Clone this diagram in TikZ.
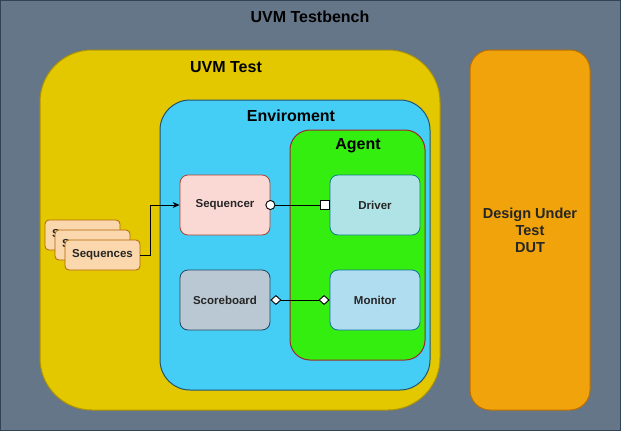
\documentclass[tikz,border=0pt]{standalone}
\usepackage{fontspec}
\setmainfont{Liberation Sans}
\usepackage{tikz}
\usetikzlibrary{positioning, arrows.meta}

\definecolor{benchfill}{HTML}{647687}
\definecolor{benchline}{HTML}{314354}
\definecolor{testfill}{HTML}{E3C800}
\definecolor{testline}{HTML}{B09500}
\definecolor{dutfill}{HTML}{F0A30A}
\definecolor{dutline}{HTML}{BD7000}
\definecolor{envfill}{HTML}{44CEF6}
\definecolor{envline}{HTML}{24536E}
\definecolor{agentfill}{HTML}{33EE0F}
\definecolor{agentline}{HTML}{A0282A}
\definecolor{seqrfill}{HTML}{FAD9D5}
\definecolor{seqrline}{HTML}{AE4132}
\definecolor{drvfill}{HTML}{B0E3E6}
\definecolor{drvline}{HTML}{0E8088}
\definecolor{sbfill}{HTML}{BAC8D3}
\definecolor{sbline}{HTML}{23445D}
\definecolor{monfill}{HTML}{B1DDF0}
\definecolor{monline}{HTML}{10739E}
\definecolor{seqsfill}{HTML}{FAD7AC}
\definecolor{seqsline}{HTML}{B46504}

\begin{document}
\begin{tikzpicture}[x=1pt, y=-1pt,
					line width=1pt,
					container/.style={draw, inner sep=0pt},
					title/.style={font=\bfseries\fontsize{16}{18}\selectfont},
					block/.style={draw, rounded corners=8pt, minimum width=90pt,
						minimum height=60pt, line width=0.8pt,
						font=\bfseries\fontsize{11.5}{13}\selectfont, text=black!85},
					seqs/.style={draw=seqsline, fill=seqsfill, rounded corners=4pt,
						minimum width=75pt, minimum height=30pt, line width=0.8pt,
						font=\bfseries\fontsize{11.5}{13}\selectfont, text=black!85},
					link/.style={line width=0.9pt}]

	\useasboundingbox (0,0) rectangle (621,431);

	% testbench frame
	\node[container, draw=benchline, fill=benchfill, minimum width=620pt,
		minimum height=430pt] (bench) at (310.5,215.5) {};
	\node[title] (benchtitle) at (310,17) {UVM Testbench};

	% test and dut
	\node[container, draw=testline, fill=testfill, rounded corners=52pt,
		minimum width=400pt, minimum height=360pt] (test) at (240,230) {};
	\node[title] (testtitle) at (226,67) {UVM Test};
	\node[container, draw=dutline, fill=dutfill, rounded corners=20pt,
		minimum width=120pt, minimum height=360pt,
		align=center, font=\bfseries\fontsize{14.5}{17}\selectfont, text=black!85]
		(dut) at (530,230) {Design Under\\Test\\DUT};

	% enviroment
	\node[container, draw=envline, fill=envfill, rounded corners=30pt,
		minimum width=270pt, minimum height=290pt] (env) at (295,245) {};
	\node[title] (envtitle) at (291,116) {Enviroment};

	% agent
	\node[container, draw=agentline, fill=agentfill, rounded corners=20pt,
		minimum width=135pt, minimum height=230pt] (agent) at (357.5,245) {};
	\node[title] (agenttitle) at (358,146) {Agent};

	% blocks
	\node[block, draw=seqrline, fill=seqrfill] (sequencer) at (225,205) {Sequencer};
	\node[block, draw=drvline, fill=drvfill] (driver) at (375,205) {Driver};
	\node[block, draw=sbline, fill=sbfill] (scoreboard) at (225,300) {Scoreboard};
	\node[block, draw=monline, fill=monfill] (monitor) at (375,300) {Monitor};

	% stacked sequences
	\node[seqs] (seq1) at (82.5,235) {Sequences};
	\node[seqs] (seq2) at (92.5,245) {Sequences};
	\node[seqs] (seq3) at (102.5,255) {Sequences};

	\draw[link, -{Stealth[length=7pt, width=6pt]}] (seq3.east) -- ++(10,0) |- (sequencer.west);
	\draw[link, {Circle[fill=white, length=10pt, width=10pt]}-{Square[fill=white, length=10pt, width=10pt]},
		shorten <=-5pt] (sequencer.east) -- (driver.west);
	\draw[link, {Diamond[fill=white, length=11pt, width=10pt]}-{Diamond[fill=white, length=11pt, width=10pt]}]
		(scoreboard.east) -- (monitor.west);
\end{tikzpicture}
\end{document}
